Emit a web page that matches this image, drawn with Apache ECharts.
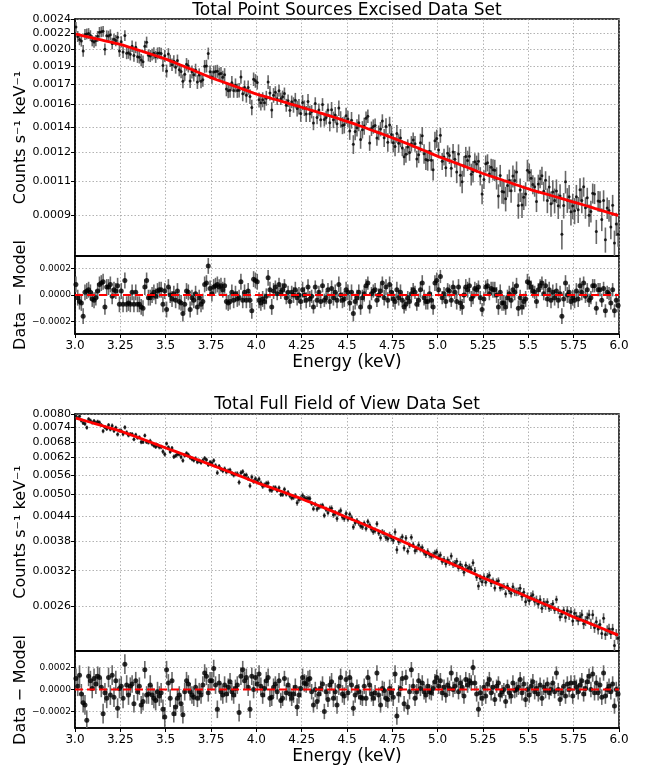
<!DOCTYPE html>
<html><head><meta charset="utf-8">
<script src="https://cdn.jsdelivr.net/npm/echarts@6/dist/echarts.min.js"></script>
<style>html,body{margin:0;padding:0;background:#fff}#c{width:657px;height:770px}</style>
</head><body><div id="c"></div>
<script>
// ---------- DATA ----------
const titles = ['Total Point Sources Excised Data Set', 'Total Full Field of View Data Set'];
const xTickStep = 0.25;            // keV
const E_START = 3.005, E_STEP = 0.01, N_BINS = 300;   // bin centres 3.005 ... 5.995 keV

// Panel 1 main-axis ticks (log axis) and labels
const p1YTicks = [0.0024, 0.0022333, 0.0020667, 0.0019, 0.0017333, 0.0015667, 0.0014, 0.0012333, 0.0010667, 0.0009];
const p1YLabels = ['0.0024','0.0022','0.0020','0.0019','0.0017','0.0016','0.0014','0.0012','0.0011','0.0009'];
// Panel 2 main-axis ticks
const p2YTicks = [0.0080, 0.0074, 0.0068, 0.0062, 0.0056, 0.0050, 0.0044, 0.0038, 0.0032, 0.0026];
const p2YLabels = ['0.0080','0.0074','0.0068','0.0062','0.0056','0.0050','0.0044','0.0038','0.0032','0.0026'];
// Residual ticks
const residTicks = [-0.0002, 0, 0.0002];
const residLabels = ['\u22120.0002', '0.0000', '0.0002'];

// Model (red curve) per bin, units 1e-6 counts/s/keV
const p1Model = [
2225,2220,2216,2211,2207,2202,2198,2193,2189,2184,2180,2175,2171,2166,2162,2157,2153,2148,2144,2139,2135,2130,2126,2121,2117,
2112,2106,2100,2094,2088,2082,2076,2070,2064,2058,2052,2046,2040,2034,2028,2022,2016,2010,2004,1998,1992,1986,1980,1974,1968,
1962,1955,1948,1941,1934,1927,1920,1913,1906,1899,1892,1885,1878,1871,1864,1857,1850,1843,1836,1829,1822,1815,1808,1801,1794,
1787,1782,1776,1770,1765,1759,1754,1748,1742,1737,1731,1726,1720,1714,1709,1703,1698,1692,1686,1681,1675,1670,1664,1658,1653,
1648,1644,1640,1635,1631,1627,1623,1619,1614,1610,1606,1602,1598,1593,1589,1585,1581,1577,1572,1568,1564,1560,1556,1551,1547,
1543,1539,1535,1530,1526,1522,1518,1514,1509,1505,1501,1497,1493,1488,1484,1480,1476,1472,1467,1463,1459,1455,1451,1446,1442,
1438,1433,1429,1424,1420,1415,1411,1406,1402,1397,1393,1388,1383,1379,1374,1370,1365,1361,1356,1352,1347,1343,1338,1334,1329,
1325,1320,1315,1311,1306,1301,1297,1292,1287,1283,1278,1273,1268,1264,1259,1254,1250,1245,1240,1236,1231,1226,1222,1217,1212,
1208,1204,1200,1196,1192,1188,1184,1180,1176,1172,1168,1164,1160,1156,1152,1148,1144,1140,1136,1132,1128,1124,1120,1116,1112,
1108,1105,1102,1098,1095,1092,1089,1085,1082,1079,1075,1072,1069,1066,1062,1059,1056,1052,1049,1046,1043,1039,1036,1033,1029,
1027,1024,1021,1019,1016,1014,1011,1008,1006,1003,1001,998,995,993,990,988,985,982,980,977,975,972,969,967,964,
962,959,957,954,951,949,946,944,941,939,936,933,931,928,926,923,921,918,915,913,910,908,905,903,900];
const p2Model = [
7808,7785,7762,7738,7715,7692,7669,7646,7622,7599,7576,7553,7530,7506,7483,7460,7437,7414,7390,7367,7344,7321,7298,7274,7251,
7226,7199,7172,7145,7117,7090,7063,7036,7009,6982,6954,6927,6900,6873,6846,6818,6791,6764,6737,6710,6682,6655,6628,6601,6574,
6548,6523,6498,6473,6449,6424,6399,6374,6350,6325,6300,6275,6250,6226,6201,6176,6151,6126,6102,6077,6052,6027,6002,5978,5953,
5928,5905,5882,5858,5835,5812,5789,5766,5742,5719,5696,5673,5650,5626,5603,5580,5557,5534,5510,5487,5464,5441,5418,5394,5371,
5350,5331,5311,5292,5272,5252,5233,5213,5194,5174,5154,5135,5115,5096,5076,5056,5037,5017,4998,4978,4958,4939,4919,4900,4880,
4860,4840,4820,4800,4780,4760,4740,4720,4700,4680,4660,4640,4620,4600,4580,4560,4540,4520,4500,4480,4460,4440,4420,4400,4380,
4361,4342,4323,4304,4285,4267,4248,4229,4210,4191,4173,4154,4135,4116,4097,4079,4060,4041,4022,4003,3985,3966,3947,3928,3909,
3891,3873,3855,3837,3819,3801,3783,3765,3747,3729,3711,3693,3675,3657,3639,3621,3603,3585,3567,3549,3531,3513,3495,3477,3459,
3442,3427,3412,3397,3382,3366,3351,3336,3321,3306,3290,3275,3260,3245,3230,3214,3199,3184,3169,3154,3138,3123,3108,3093,3078,
3063,3050,3037,3024,3011,2997,2984,2971,2958,2945,2931,2918,2905,2892,2879,2865,2852,2839,2826,2813,2799,2786,2773,2760,2747,
2734,2722,2710,2698,2686,2674,2662,2650,2638,2626,2614,2602,2590,2578,2566,2554,2542,2530,2518,2506,2494,2482,2470,2458,2446,
2435,2425,2415,2405,2395,2385,2375,2365,2355,2345,2335,2325,2315,2305,2295,2285,2275,2265,2255,2245,2235,2225,2215,2205,2195];

// Residuals (Data - Model) per bin, units 1e-5
const p1Resid = [
8,-2,-5,-6,-16,2,3,4,2,-3,-4,-2,3,8,9,10,-9,6,6,8,-1,4,3,7,-7,3,-7,11,-7,-6,-7,2,-7,2,-7,-7,-9,-10,6,11,-2,-2,0,2,-1,3,4,4,-7,3,
-11,6,0,-3,1,-4,3,-5,-6,-14,-7,3,2,-11,-2,-4,1,-9,-2,-7,-5,8,9,22,5,1,6,7,8,6,7,4,7,-5,-6,-5,2,-4,1,-3,-2,10,-4,2,-4,3,-4,-12,12,11,
10,-4,-6,-3,-5,-1,13,4,-9,3,6,1,8,2,4,7,-2,2,-5,2,0,4,-2,0,-5,4,0,-4,6,-3,-1,-9,6,-4,2,-5,7,-4,-2,4,-5,5,-2,2,-4,8,0,-4,-3,4,
2,-6,2,-14,-5,-2,2,-9,-2,1,7,9,-9,1,3,4,-4,0,3,9,-2,6,-4,8,2,-3,-5,4,-2,2,-4,-9,-7,-2,-5,1,4,2,-7,-4,4,9,-2,-5,-5,1,-4,-9,9,11,
4,14,-2,1,-5,4,3,-4,6,2,-5,6,-6,-9,0,6,4,7,-3,-1,5,4,6,-2,-11,-3,6,7,1,5,4,4,0,-9,2,-6,-6,-9,-2,1,-4,4,2,7,-10,-2,-9,-5,-3,10,
9,6,3,2,-5,4,7,9,1,7,-3,4,-4,2,-2,3,-4,1,-16,-3,9,0,2,-5,-2,-4,3,-3,7,2,9,-1,4,-4,-2,7,7,-10,4,4,-4,5,-12,2,1,-6,4,-12,-4,-8];
const p2Resid = [
10,3,13,-4,-12,-14,-28,12,8,1,10,5,12,11,2,-22,-3,-8,11,-5,13,-7,8,-17,1,3,-8,23,4,-5,3,5,-13,8,-2,3,-14,-11,18,-5,-4,4,-5,-8,-10,-2,-6,-3,-18,-25,
18,6,-8,8,-22,-16,-8,-5,-13,-23,-2,8,5,-2,-5,-7,2,-8,-2,-5,4,15,12,-3,8,8,19,4,-18,6,-2,-5,4,-4,2,7,-2,-5,1,4,-21,12,18,8,11,2,-18,12,0,11,
5,14,3,-5,1,8,11,-8,-7,2,5,-2,8,-10,-8,10,-3,4,-4,-8,-4,2,-16,-5,1,11,6,5,9,10,-2,-14,0,-11,-4,1,5,-20,-2,-9,4,7,-8,-2,-14,3,11,-4,-6,9,
-3,11,4,-17,-5,2,-2,-7,-8,3,-8,11,4,-4,-8,-3,15,-5,-14,1,-1,-8,-9,1,-3,-7,14,-24,-4,1,10,-13,11,-16,-2,18,3,-8,-2,8,1,6,-2,-5,3,-2,-3,1,7,11,
3,8,-3,2,-5,4,1,15,0,3,9,-2,6,2,-6,9,4,8,6,20,6,-4,-18,-3,-8,2,-6,5,9,-3,2,-9,3,6,-5,-2,0,-11,3,-3,-6,6,-1,0,2,9,-3,5,-9,0,
-5,3,7,-2,1,-4,4,-8,2,-1,5,-3,0,6,-2,15,0,-9,-3,3,-6,5,0,6,-6,6,2,-2,4,8,-4,1,7,12,0,14,-3,6,-3,4,-7,15,-6,0,3,-2,5,-15,0,-4];

// 1-sigma errors per 0.1 keV segment, units 1e-5
const p1ErrSeg = [6,6,6,6,6,6,6,6,6,6, 6,5,6,5,6,6,5,6,5,6, 5,6,5,6,6,5,6,6,5,5];
const p2ErrSeg = [9,9,9,8,9,8,8,8,8,8, 8,7,8,7,8,7,7,8,7,7, 7,7,7,6,7,7,6,7,7,7];

// ---------- BUILD ----------
const energies = [];
for (let i = 0; i < N_BINS; i++) energies.push(+(E_START + i * E_STEP).toFixed(3));

function build(model, resid, errSeg) {
  const pts = [], bars = [], line = [], rpts = [], rbars = [];
  energies.forEach((e, i) => {
    const m = model[i] * 1e-6, r = resid[i] * 1e-5, s = errSeg[Math.floor(i / 10)] * 1e-5;
    const d = m + r;
    pts.push([e, d]); bars.push([e, d - s, d + s]); line.push([e, m]);
    rpts.push([e, r]); rbars.push([e, r - s, r + s]);
  });
  return { pts, bars, line, rpts, rbars };
}
const P1 = build(p1Model, p1Resid, p1ErrSeg);
const P2 = build(p2Model, p2Resid, p2ErrSeg);

const FONT = '"DejaVu Sans", sans-serif';
function pick(v, ticks, labels) {
  let b = 0, bd = Infinity;
  ticks.forEach((t, i) => { const d = Math.abs(t - v); if (d < bd) { bd = d; b = i; } });
  return labels[b];
}
const gridLine = { show: true, lineStyle: { type: [1.5, 2], color: '#a0a0a0', width: 0.8 } };

function xAxis(gi, showLabels) {
  return {
    type: 'value', gridIndex: gi, min: 3, max: 6, interval: xTickStep,
    axisLine: { show: true, onZero: false, lineStyle: { color: '#000', width: 1.5 } },
    axisTick: { show: showLabels, length: 4, lineStyle: { color: '#000' } },
    axisLabel: {
      show: showLabels, color: '#000', fontSize: 12, fontFamily: FONT, margin: 6,
      showMinLabel: true, showMaxLabel: true,
      formatter: v => (Math.round(v * 100) % 10 === 0 ? v.toFixed(1) : v.toFixed(2))
    },
    splitLine: gridLine
  };
}
function yMain(gi, min, max, ticks, labels) {
  return {
    type: 'log', logBase: 10, gridIndex: gi, min: min, max: max,
    axisLine: { show: true, onZero: false, lineStyle: { color: '#000', width: 1.5 } },
    axisTick: { show: true, customValues: ticks, length: 4, lineStyle: { color: '#000' } },
    axisLabel: { customValues: ticks, color: '#000', fontSize: 11, fontFamily: FONT, margin: 4,
      formatter: v => pick(v, ticks, labels) },
    splitLine: gridLine
  };
}
function yResid(gi, lim) {
  return {
    type: 'value', gridIndex: gi, min: -lim, max: lim,
    axisLine: { show: true, onZero: false, lineStyle: { color: '#000', width: 1.5 } },
    axisTick: { show: true, customValues: residTicks, length: 4, lineStyle: { color: '#000' } },
    axisLabel: { customValues: residTicks, color: '#000', fontSize: 9, fontFamily: FONT, margin: 4,
      formatter: v => pick(v, residTicks, residLabels) },
    splitLine: gridLine
  };
}
function errSeries(ai, data, color, w) {
  return {
    type: 'custom', xAxisIndex: ai, yAxisIndex: ai, data: data, z: 2, silent: true, clip: true,
    encode: { x: 0, y: [1, 2] },
    renderItem: (params, api) => {
      const a = api.coord([api.value(0), api.value(1)]);
      const b = api.coord([api.value(0), api.value(2)]);
      return { type: 'line', shape: { x1: a[0], y1: a[1], x2: b[0], y2: b[1] },
        style: { stroke: color, lineWidth: w } };
    }
  };
}
function dots(ai, data, size) {
  return { type: 'scatter', xAxisIndex: ai, yAxisIndex: ai, data: data, symbol: 'circle',
    symbolSize: size, itemStyle: { color: '#000' }, z: 3, silent: true };
}
function redLine(ai, data, dashed) {
  return { type: 'line', xAxisIndex: ai, yAxisIndex: ai, data: data, showSymbol: false, z: 4, silent: true,
    lineStyle: { color: '#ff0000', width: dashed ? 2.2 : 2.8, type: dashed ? [8, 4] : 'solid' } };
}
function txt(x, y, text, size, rot) {
  return { type: 'text', x: x, y: y, rotation: rot || 0, silent: true,
    style: { text: text, font: size + 'px ' + FONT, fill: '#000',
      align: 'center', verticalAlign: 'middle', textAlign: 'center', textVerticalAlign: 'middle' } };
}
const gridBase = { left: 75, width: 544, show: true, borderColor: '#000', borderWidth: 1.5, containLabel: false };

const option = {
  animation: false,
  backgroundColor: '#fff',
  grid: [
    Object.assign({}, gridBase, { top: 19, height: 237 }),
    Object.assign({}, gridBase, { top: 256, height: 78 }),
    Object.assign({}, gridBase, { top: 414, height: 237 }),
    Object.assign({}, gridBase, { top: 651, height: 77 })
  ],
  xAxis: [xAxis(0, false), xAxis(1, true), xAxis(2, false), xAxis(3, true)],
  yAxis: [
    yMain(0, 0.0007357, 0.0024, p1YTicks, p1YLabels),
    yResid(1, 0.000295),
    yMain(2, 0.002001, 0.0080, p2YTicks, p2YLabels),
    yResid(3, 0.00035)
  ],
  series: [
    errSeries(0, P1.bars, '#686868', 1.6), dots(0, P1.pts, 3), redLine(0, P1.line, false),
    errSeries(1, P1.rbars, '#686868', 1.6), dots(1, P1.rpts, 5), redLine(1, [[3, 0], [6, 0]], true),
    errSeries(2, P2.bars, '#686868', 1.6), dots(2, P2.pts, 3), redLine(2, P2.line, false),
    errSeries(3, P2.rbars, '#686868', 1.6), dots(3, P2.rpts, 5), redLine(3, [[3, 0], [6, 0]], true)
  ],
  graphic: [
    txt(347, 10.5, titles[0], 17),
    txt(21, 137.5, 'Counts s\u207B\u00B9 keV\u207B\u00B9', 16, Math.PI / 2),
    txt(21, 295, 'Data \u2212 Model', 16, Math.PI / 2),
    txt(347, 363, 'Energy (keV)', 17),
    txt(347, 404.5, titles[1], 17),
    txt(21, 532, 'Counts s\u207B\u00B9 keV\u207B\u00B9', 16, Math.PI / 2),
    txt(21, 690, 'Data \u2212 Model', 16, Math.PI / 2),
    txt(347, 757, 'Energy (keV)', 17)
  ]
};
const chart = echarts.init(document.getElementById('c'), null, { renderer: 'canvas' });
chart.setOption(option);
</script>
</body></html>
